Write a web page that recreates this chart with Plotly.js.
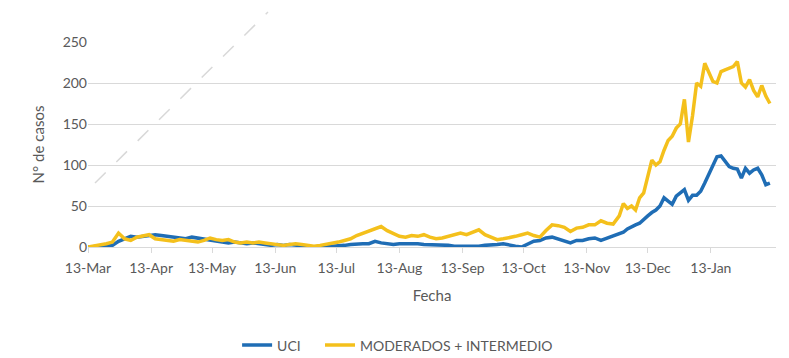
<!DOCTYPE html>
<html>
<head>
<meta charset="utf-8">
<script src="https://cdn.plot.ly/plotly-3.0.1.min.js"></script>
<style>html,body{margin:0;padding:0;background:#fff;}#chart{width:789px;height:358px;}</style>
</head>
<body>
<div id="chart"></div>
<script>
const fechas = [
 "2020-03-13","2020-03-16","2020-03-19","2020-03-22","2020-03-25","2020-03-28","2020-03-31",
 "2020-04-03","2020-04-06","2020-04-09","2020-04-12","2020-04-15","2020-04-18","2020-04-21","2020-04-24","2020-04-27","2020-04-30",
 "2020-05-03","2020-05-06","2020-05-09","2020-05-12","2020-05-15","2020-05-18","2020-05-21","2020-05-24","2020-05-27","2020-05-30",
 "2020-06-02","2020-06-05","2020-06-08","2020-06-11","2020-06-14","2020-06-17","2020-06-20","2020-06-23","2020-06-26","2020-06-29",
 "2020-07-02","2020-07-05","2020-07-08","2020-07-11","2020-07-14","2020-07-17","2020-07-20","2020-07-23","2020-07-26","2020-07-29",
 "2020-08-01","2020-08-04","2020-08-07","2020-08-10","2020-08-13","2020-08-16","2020-08-19","2020-08-22","2020-08-25","2020-08-28","2020-08-31",
 "2020-09-03","2020-09-06","2020-09-09","2020-09-12","2020-09-15","2020-09-18","2020-09-21","2020-09-24","2020-09-27","2020-09-30",
 "2020-10-03","2020-10-06","2020-10-09","2020-10-12","2020-10-15","2020-10-18","2020-10-21","2020-10-24","2020-10-27","2020-10-30",
 "2020-11-02","2020-11-05","2020-11-08","2020-11-11","2020-11-14","2020-11-17","2020-11-20","2020-11-23","2020-11-26","2020-11-29",
 "2020-12-01","2020-12-03","2020-12-05","2020-12-07","2020-12-09","2020-12-11","2020-12-13","2020-12-15","2020-12-17","2020-12-19","2020-12-21","2020-12-23","2020-12-25","2020-12-27","2020-12-29","2020-12-31",
 "2021-01-02","2021-01-04","2021-01-06","2021-01-08","2021-01-10","2021-01-12","2021-01-14","2021-01-16","2021-01-18","2021-01-20","2021-01-22","2021-01-24","2021-01-26","2021-01-28","2021-01-30",
 "2021-02-01","2021-02-03","2021-02-05","2021-02-07","2021-02-09","2021-02-11"
];

const uci = [
 0,0,1,2,2,7,10,
 13,12,13,15,15,14,13,12,11,10,
 12,11,10,8,7,6,5,6,5,4,
 5,4,3,2,3,2,3,2,2,1,
 0,1,0,1,1,2,3,4,4,4,
 7,5,4,3,4,4,5,4,3,3,3,
 2,2,1,1,1,0,1,2,2,3,
 4,2,1,0,3,7,8,11,12,10,
 7,5,8,8,10,11,8,11,13,17,
 18,22,25,27,29,34,38,42,45,50,60,56,52,62,66,70,
 57,63,63,68,78,88,100,110,111,104,98,96,95,84,96,
 90,94,96,88,76,78
];

const moderados = [
 0,1,3,4,6,17,10,
 8,12,14,15,10,9,8,7,9,8,
 7,6,8,11,9,8,9,6,5,6,
 5,6,5,4,3,2,3,4,3,2,
 1,2,3,4,6,8,10,14,17,20,
 22,25,20,17,13,12,14,13,15,12,10,
 11,13,14,17,15,18,21,15,12,9,
 10,11,13,15,17,14,12,20,27,26,
 24,19,23,24,27,27,32,29,28,38,
 53,47,50,45,60,66,85,106,100,104,118,130,135,145,150,180,
 128,160,200,196,224,212,202,200,214,216,218,220,226,200,195,
 204,191,183,197,184,175
];

const tickFechas = ["2020-03-13","2020-04-13","2020-05-13","2020-06-13","2020-07-13","2020-08-13","2020-09-13","2020-10-13","2020-11-13","2020-12-13","2021-01-13"];
const tickTextos = ["13-Mar","13-Apr","13-May","13-Jun","13-Jul","13-Aug","13-Sep","13-Oct","13-Nov","13-Dec","13-Jan"];
const yTicks = [0,50,100,150,200,250];

const FONT = "Lato, 'Open Sans', sans-serif";
const GREY = "#595959";

const traces = [
 {x: fechas, y: uci, type: "scatter", mode: "lines", name: "UCI\u00a0\u00a0\u00a0\u00a0",
  line: {color: "#1f6db5", width: 3.5}},
 {x: fechas, y: moderados, type: "scatter", mode: "lines", name: "MODERADOS + INTERMEDIO",
  line: {color: "#f4c01c", width: 3.5}}
];

const layout = {
 width: 789, height: 358,
 margin: {l: 88, r: 13, t: 42, b: 111},
 paper_bgcolor: "#ffffff", plot_bgcolor: "#ffffff",
 font: {family: FONT, color: GREY, size: 14},
 showlegend: true,
 legend: {orientation: "h", x: 0.45, xanchor: "center", yref: "container", y: 0.035, yanchor: "middle",
  font: {family: FONT, size: 14, color: GREY}, traceorder: "normal"},
 xaxis: {
  type: "date", range: ["2020-03-13", "2021-02-14"],
  tickvals: tickFechas, ticktext: tickTextos,
  showgrid: false, zeroline: false,
  showline: true, linecolor: "#d9d9d9", linewidth: 1,
  ticks: "outside", ticklen: 5, tickcolor: "#d9d9d9",
  ticklabelstandoff: 3,
  tickfont: {family: FONT, size: 14, color: GREY},
  title: {text: "Fecha", font: {family: FONT, size: 15, color: GREY}, standoff: 15}
 },
 yaxis: {
  range: [0, 250], tickvals: yTicks,
  showgrid: true, gridcolor: "#d9d9d9", gridwidth: 1,
  zeroline: false, showline: false, ticks: "",
  tickfont: {family: FONT, size: 14, color: GREY},
  title: {text: "N° de casos", font: {family: FONT, size: 15, color: GREY}, standoff: 14}
 },
 shapes: [
  {type: "line", xref: "paper", yref: "paper", x0: 0.0102, y0: 0.312, x1: 0.2616, y1: 1.146,
   line: {color: "rgba(190,190,190,0.6)", width: 1.5, dash: "longdash"}}
 ]
};

Plotly.newPlot("chart", traces, layout, {displayModeBar: false, staticPlot: true});
</script>
</body>
</html>
